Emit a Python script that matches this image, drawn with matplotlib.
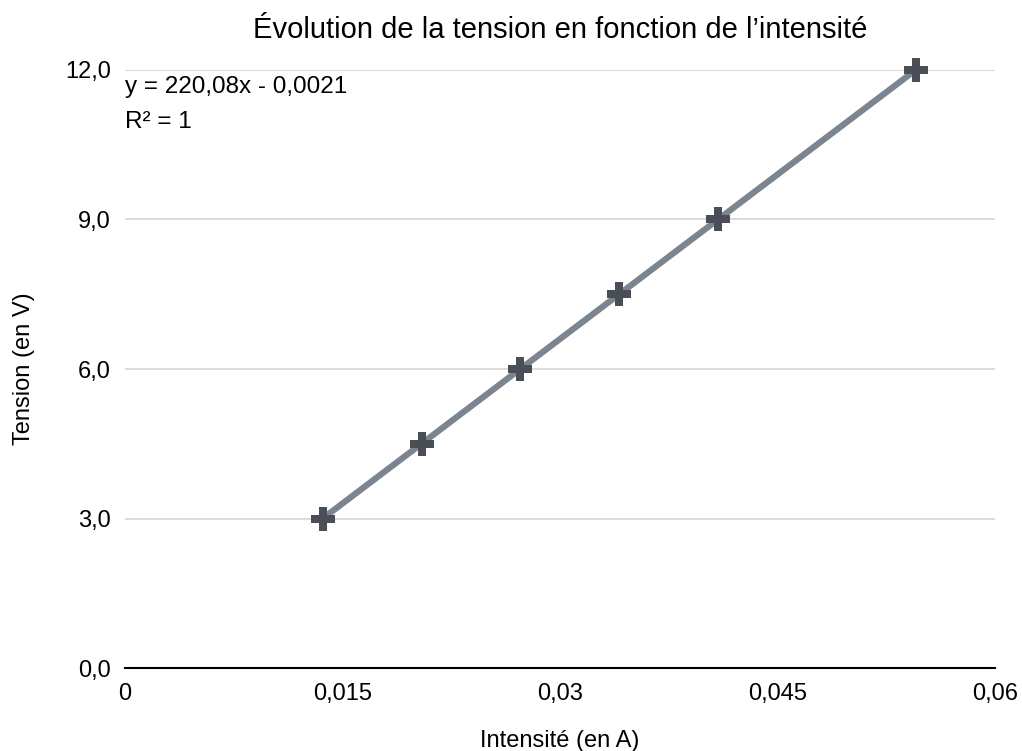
import matplotlib.pyplot as plt
import numpy as np

plt.rcParams['font.family'] = ['Liberation Sans', 'DejaVu Sans']

intensite = np.array([0.01363, 0.02045, 0.02726, 0.03408, 0.04089, 0.05453])
tension = np.array([3.0, 4.5, 6.0, 7.5, 9.0, 12.0])

x_ticks = [0, 0.015, 0.03, 0.045, 0.06]
x_labels = ['0', '0,015', '0,03', '0,045', '0,06']
y_ticks = [0, 3, 6, 9, 12]
y_labels = ['0,0', '3,0', '6,0', '9,0', '12,0']

fig = plt.figure(figsize=(10.22, 7.51), dpi=100)
ax = fig.add_axes([0.1223, 0.1105, 0.8513, 0.7963])

# droite de tendance
a, b = np.polyfit(intensite, tension, 1)
xs = np.array([intensite.min(), intensite.max()])
ax.plot(xs, a * xs + b, color='#7b8590', lw=4.5, solid_capstyle='round', zorder=2,
        clip_on=False)
ax.plot(intensite, tension, linestyle='none', marker='P', markersize=17,
        color='#4a4f57', markeredgewidth=0, zorder=3, clip_on=False)

ax.set_xlim(0, 0.06)
ax.set_ylim(0, 12)
ax.set_xticks(x_ticks)
ax.set_xticklabels(x_labels)
ax.set_yticks(y_ticks)
ax.set_yticklabels(y_labels)
ax.tick_params(length=0, labelsize=17, colors='black')
ax.tick_params(axis='x', pad=11)
ax.tick_params(axis='y', pad=10)

ax.grid(axis='y', color='#d4d4d4', lw=1.2, zorder=0)
ax.set_axisbelow(True)
for s in ['top', 'right', 'left']:
    ax.spines[s].set_visible(False)
ax.spines['bottom'].set_linewidth(1.5)
ax.spines['bottom'].set_zorder(4)

ax.set_xlabel('Intensité (en A)', fontsize=17, labelpad=18)
ax.set_ylabel('Tension (en V)', fontsize=17, labelpad=22)
ax.set_title('Évolution de la tension en fonction de l\u2019intensité', fontsize=21, pad=23)

ax.text(0.0, 11.65, 'y = 220,08x - 0,0021', fontsize=17.5, ha='left', va='center')
ax.text(0.0, 10.95, 'R² = 1', fontsize=17.5, ha='left', va='center')

fig.savefig('out.png', dpi=100)
